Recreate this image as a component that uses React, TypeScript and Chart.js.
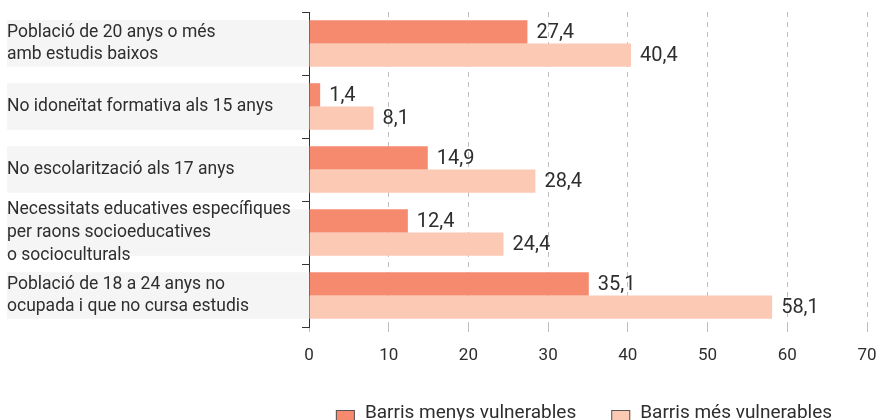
import React, { useEffect, useRef } from 'react';
import { Chart, registerables } from 'chart.js';

Chart.register(...registerables);

const categories: string[][] = [
  ['Població de 20 anys o més', 'amb estudis baixos'],
  ['No idoneïtat formativa als 15 anys'],
  ['No escolarització als 17 anys'],
  ['Necessitats educatives específiques', 'per raons socioeducatives', 'o socioculturals'],
  ['Població de 18 a 24 anys no', 'ocupada i que no cursa estudis'],
];
const seriesNames = ['Barris menys vulnerables', 'Barris més vulnerables'];
const lessVulnerable = [27.4, 1.4, 14.9, 12.4, 35.1];
const moreVulnerable = [40.4, 8.1, 28.4, 24.4, 58.1];
const xMin = 0;
const xMax = 70;
const xStep = 10;

const COLORS = ['#f58a6f', '#fcc9b5'];
const TEXT = '#2e2e2e';
const FONT = 'Roboto';

const bandPlugin = {
  id: 'bandPlugin',
  beforeDraw(chart: any) {
    const { ctx, chartArea } = chart;
    const m0 = chart.getDatasetMeta(0);
    const m1 = chart.getDatasetMeta(1);
    ctx.save();
    ctx.fillStyle = '#f5f5f5';
    m0.data.forEach((b: any, i: number) => {
      const b1 = m1.data[i];
      const top = b.y - b.height / 2;
      const bottom = b1.y + b1.height / 2;
      ctx.fillRect(7, top, chartArea.left - 7, bottom - top);
    });
    ctx.restore();
  },
};

const valuePlugin = {
  id: 'valuePlugin',
  afterDatasetsDraw(chart: any) {
    const { ctx } = chart;
    ctx.save();
    ctx.font = `20px ${FONT}`;
    ctx.fillStyle = TEXT;
    ctx.textAlign = 'left';
    ctx.textBaseline = 'middle';
    chart.data.datasets.forEach((ds: any, di: number) => {
      const meta = chart.getDatasetMeta(di);
      meta.data.forEach((bar: any, i: number) => {
        const v = ds.data[i];
        ctx.fillText(v.toFixed(1).replace('.', ','), bar.x + 9, bar.y + 1);
      });
    });
    ctx.restore();
  },
};

const legendPlugin = {
  id: 'customLegend',
  afterDraw(chart: any) {
    const { ctx, chartArea } = chart;
    const box = 19;
    const textGap = 10;
    const itemGap = 35;
    ctx.save();
    ctx.font = `19px ${FONT}`;
    const widths = chart.data.datasets.map((d: any) => ctx.measureText(d.label).width);
    const total = widths.reduce((a: number, w: number) => a + box + textGap + w, 0) + itemGap * (widths.length - 1);
    let x = (chartArea.left + chartArea.right) / 2 - 4 - total / 2;
    const top = 410;
    chart.data.datasets.forEach((d: any, i: number) => {
      ctx.fillStyle = d.backgroundColor;
      ctx.fillRect(x, top, box, box);
      ctx.strokeStyle = '#555';
      ctx.lineWidth = 1;
      ctx.strokeRect(x + 0.5, top + 0.5, box - 1, box - 1);
      ctx.fillStyle = TEXT;
      ctx.textAlign = 'left';
      ctx.textBaseline = 'middle';
      ctx.fillText(d.label, x + box + textGap, top + 3);
      x += box + textGap + widths[i] + itemGap;
    });
    ctx.restore();
  },
};

export default function App() {
  const ref = useRef<HTMLCanvasElement>(null);
  useEffect(() => {
    if (!ref.current) return;
    const chart = new Chart(ref.current, {
      type: 'bar',
      data: {
        labels: categories,
        datasets: [
          { label: seriesNames[0], data: lessVulnerable, backgroundColor: COLORS[0], categoryPercentage: 0.74, barPercentage: 1 },
          { label: seriesNames[1], data: moreVulnerable, backgroundColor: COLORS[1], categoryPercentage: 0.74, barPercentage: 1 },
        ],
      },
      options: {
        indexAxis: 'y',
        animation: false,
        responsive: true,
        maintainAspectRatio: false,
        layout: { padding: { left: 7, top: 12, right: 10, bottom: 0 } },
        plugins: { legend: { display: false }, tooltip: { enabled: false } },
        scales: {
          x: {
            min: xMin,
            max: xMax,
            ticks: { stepSize: xStep, color: TEXT, font: { family: FONT, size: 17 }, padding: 11 },
            grid: { color: '#bdbdbd', tickLength: 8, tickBorderDash: [5, 5], tickColor: '#bdbdbd' },
            border: { display: false, dash: [5, 5] },
            afterFit(scale: any) {
              scale.height = 93;
              scale.paddingLeft = 0;
              scale.paddingRight = 0;
            },
          },
          y: {
            ticks: { color: TEXT, font: { family: FONT, size: 17.5, lineHeight: 1.3 }, crossAlign: 'far', padding: 0, autoSkip: false },
            grid: { drawOnChartArea: false, color: '#333', tickLength: 7, offset: true },
            border: { color: '#333', width: 1 },
            afterFit(scale: any) {
              scale.width = 302;
              scale.paddingTop = 0;
              scale.paddingBottom = 0;
            },
          },
        },
      } as any,
      plugins: [bandPlugin, valuePlugin, legendPlugin],
    });
    return () => chart.destroy();
  }, []);
  return (
    <div style={{ position: 'absolute', left: 0, top: 0, width: 877, height: 420 }}>
      <canvas ref={ref} />
    </div>
  );
}
